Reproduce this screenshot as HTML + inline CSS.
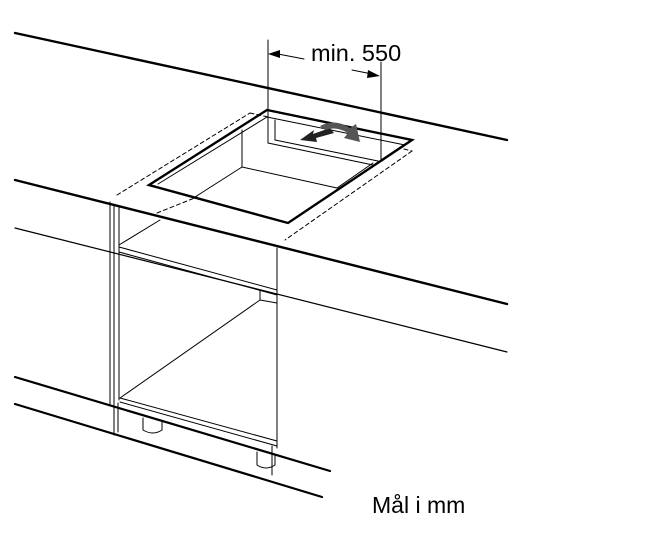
<!DOCTYPE html>
<html><head><style>body{margin:0;background:#fff}svg{display:block}</style></head><body>
<svg width="664" height="539" viewBox="0 0 664 539" xmlns="http://www.w3.org/2000/svg" font-family="Liberation Sans, sans-serif">
<g stroke="#000" fill="none" stroke-linecap="round">
<line x1="15" y1="33" x2="507" y2="140" stroke-width="2.4"/>
<line x1="15" y1="180" x2="507" y2="304" stroke-width="2.4"/>
<line x1="15" y1="228" x2="507" y2="352" stroke-width="1.2"/>
<line x1="15" y1="377" x2="330" y2="471" stroke-width="2.2"/>
<line x1="15" y1="404" x2="322" y2="497" stroke-width="2.2"/>
<!-- dashed outline -->
<g stroke-dasharray="4,3" stroke-width="1">
<line x1="117" y1="195" x2="250" y2="113"/>
<line x1="250" y1="113" x2="268" y2="117"/>
<line x1="404" y1="149" x2="412" y2="151"/>
<line x1="412" y1="151" x2="285" y2="240"/>
<line x1="157" y1="213" x2="197" y2="197"/>
</g>
<!-- cutout -->
<polygon points="149,185 267,110 412,140 288,223" stroke-width="2.4"/>
<g stroke-width="1">
<line x1="158" y1="184" x2="267" y2="117"/>
<line x1="267" y1="117" x2="405" y2="145"/>
<line x1="242" y1="130" x2="242" y2="167"/>
<line x1="242" y1="167" x2="337" y2="188"/>
<line x1="242" y1="167" x2="195" y2="197"/>
<line x1="337" y1="188" x2="373" y2="163"/>
<line x1="268" y1="143" x2="373" y2="165"/>
<line x1="275" y1="140" x2="378" y2="161"/>
<line x1="275" y1="120" x2="275" y2="140"/>
<line x1="268" y1="40" x2="268" y2="143"/>
<line x1="381" y1="62" x2="381" y2="160"/>
<line x1="278" y1="54" x2="304" y2="59"/>
<line x1="352" y1="70" x2="372" y2="74"/>
<!-- cabinet -->
<line x1="110" y1="202" x2="110" y2="405"/>
<line x1="114" y1="205" x2="114" y2="435"/>
<line x1="119" y1="207" x2="119" y2="400"/>
<line x1="277" y1="248" x2="277" y2="448"/>
<line x1="119" y1="247" x2="277" y2="290"/>
<line x1="119" y1="252" x2="277" y2="295"/>
<line x1="119" y1="245" x2="160" y2="220"/>
<line x1="260" y1="290" x2="260" y2="300"/>
<line x1="260" y1="300" x2="277" y2="303"/>
<line x1="120" y1="398" x2="260" y2="300"/>
<line x1="120" y1="398" x2="277" y2="441"/>
<line x1="120" y1="402" x2="277" y2="446"/>
<line x1="118" y1="403" x2="118" y2="432"/>
<line x1="272" y1="446" x2="272" y2="475"/>
<path d="M143,418 V430 Q153,436 162,430 V422"/>
<path d="M257,452 V465 Q266,471 275,465 V454"/>
</g>
</g>
<polygon points="268,54 280,50 280,58" fill="#000"/>
<polygon points="380,76 368,70 367,78" fill="#000"/>
<!-- adjust arrows -->
<path d="M300,140 L314,130 L313,134 L330,128 L334,133 L316,138 L317,142 Z" fill="#222"/>
<path d="M320,126 Q335,118 350,128 L356,124 L360,142 L344,138 L348,133 Q336,126 325,130 Z" fill="#555"/>
<text x="311" y="61" font-size="23.5">min. 550</text>
<text x="372" y="513" font-size="23">Mål i mm</text>
</svg>
</body></html>
